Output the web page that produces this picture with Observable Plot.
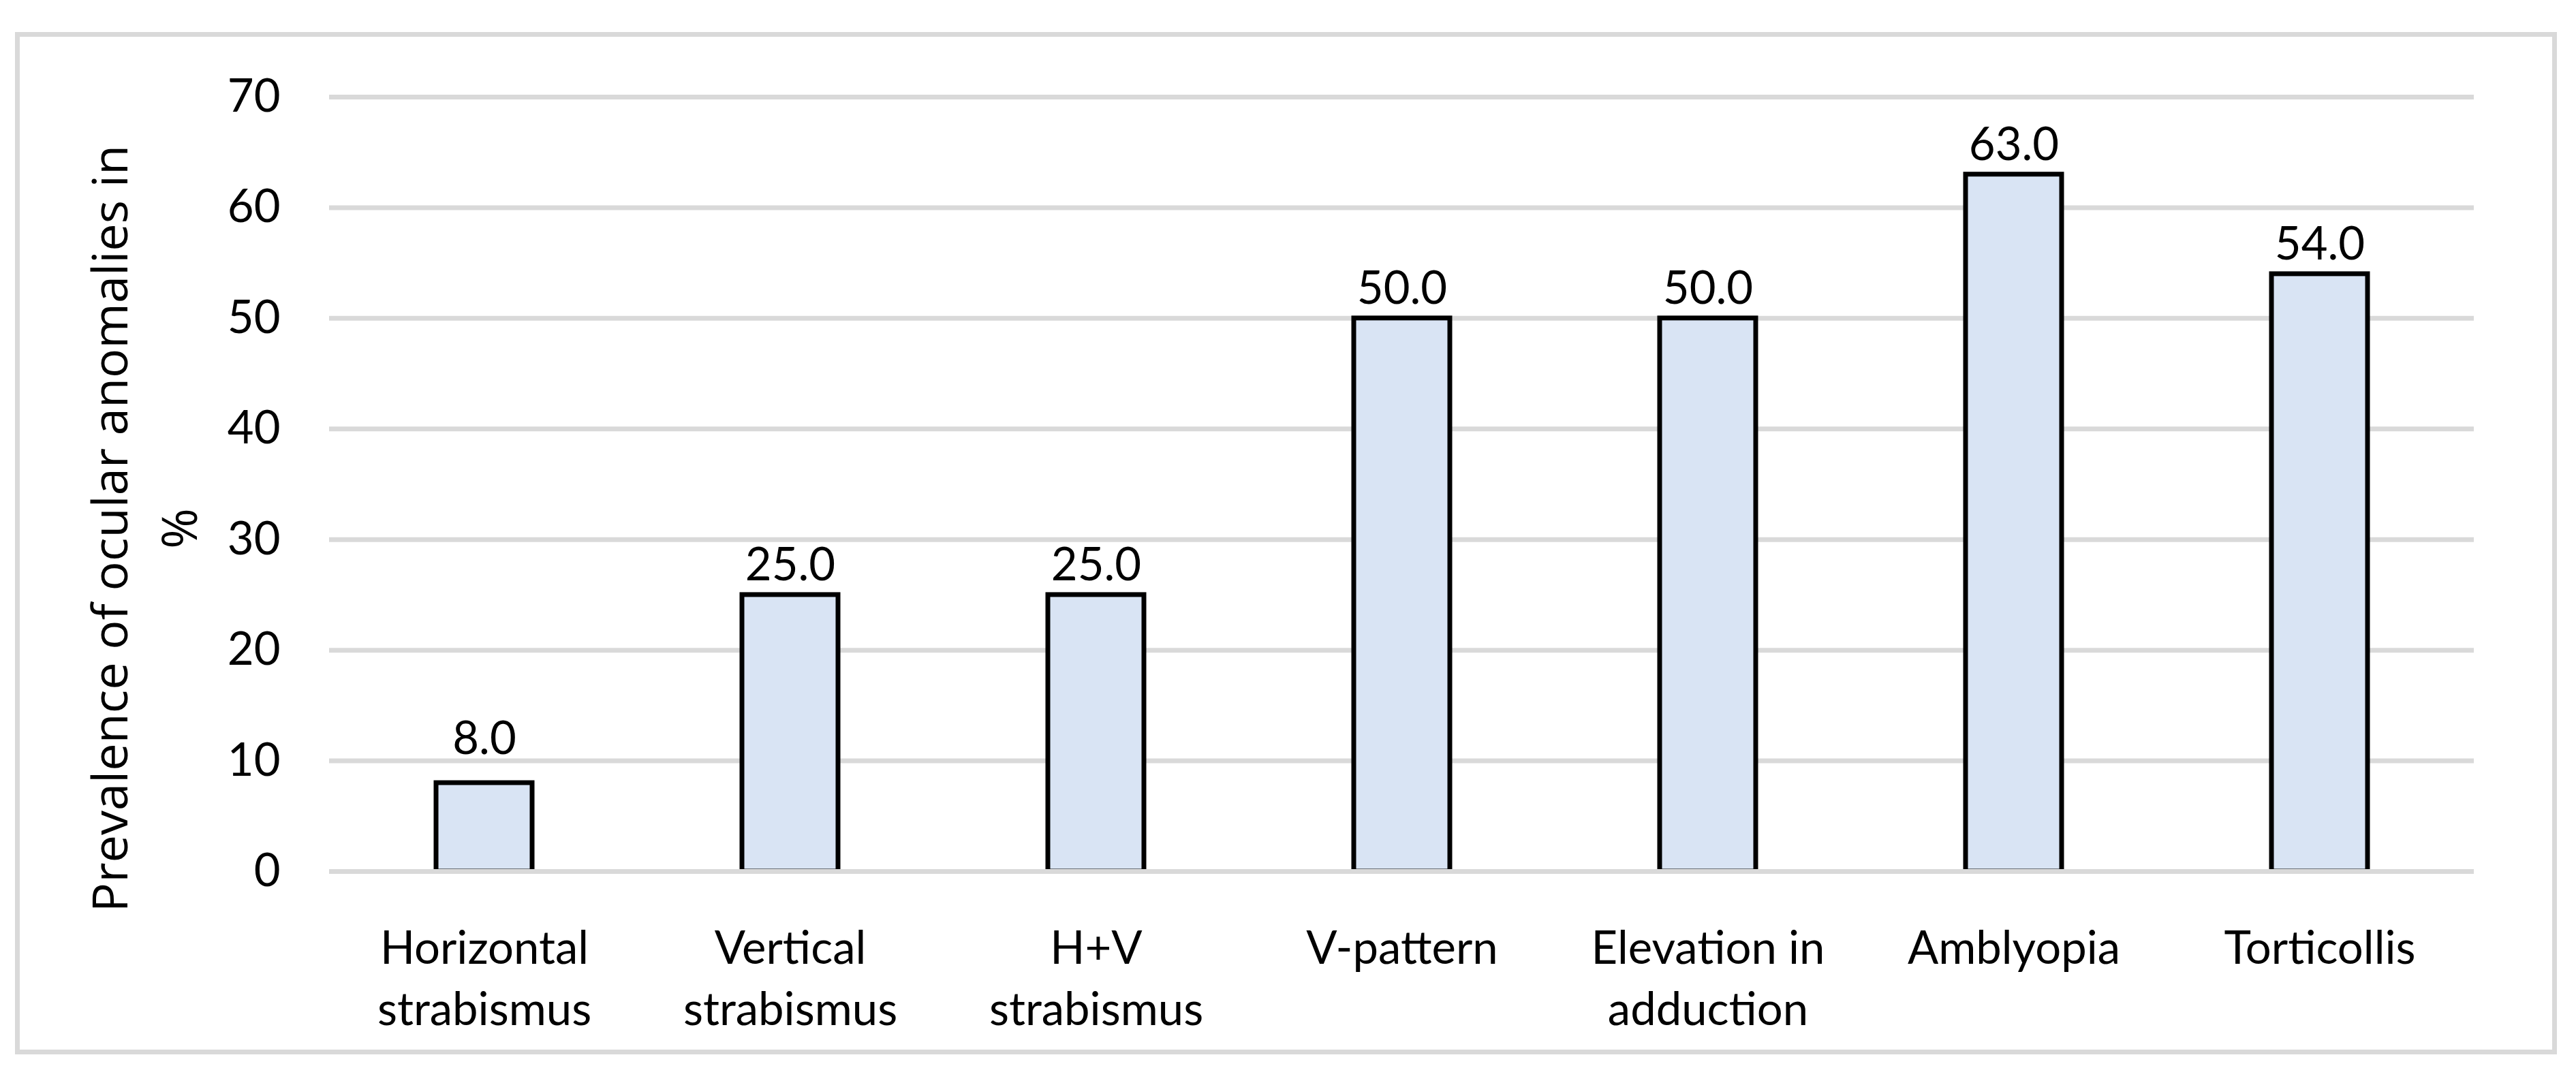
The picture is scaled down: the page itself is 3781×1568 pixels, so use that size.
<!DOCTYPE html>
<html>
<head>
<meta charset="utf-8">
<script src="https://cdn.jsdelivr.net/npm/d3@7"></script>
<script src="https://cdn.jsdelivr.net/npm/@observablehq/plot@0.6"></script>
<style>
  html, body { margin: 0; padding: 0; background: #fff; }
  #wrap { position: relative; width: 3781px; height: 1568px; background: #fff; }
  #wrap svg { position: absolute; left: 0; top: 0; }
  #frame { position: absolute; left: 22px; top: 47px; width: 3731px; height: 1501px;
           border: 7px solid #d9d9d9; box-sizing: border-box; pointer-events: none; }
</style>
</head>
<body>
<div id="wrap"><div id="frame"></div></div>
<script>
// ---- data ----
const categories = [
  "Horizontal\nstrabismus",
  "Vertical\nstrabismus",
  "H+V\nstrabismus",
  "V-pattern",
  "Elevation in\nadduction",
  "Amblyopia",
  "Torticollis"
];
const values = [8.0, 25.0, 25.0, 50.0, 50.0, 63.0, 54.0];
const yTicks = [0, 10, 20, 30, 40, 50, 60, 70];
const yTitleLine1 = "Prevalence of ocular anomalies in";
const yTitleLine2 = "%";

const data = categories.map((c, i) => ({ category: c, value: values[i] }));
const firstGrid = yTicks[1];

const chart = Plot.plot({
  width: 3781,
  height: 1568,
  marginLeft: 483,
  marginRight: 150,
  marginTop: 142,
  marginBottom: 289,
  style: { fontFamily: "Lato, sans-serif", fontSize: "67px", color: "#000", background: "transparent", overflow: "visible" },
  x: { domain: categories, paddingInner: 0.686, paddingOuter: 0.343, label: null },
  y: { domain: [0, 70], ticks: yTicks, label: null },
  marks: [
    Plot.gridY(yTicks, { stroke: "#d9d9d9", strokeOpacity: 1, strokeWidth: 7 }),
    Plot.barY(data, { x: "category", y: "value", fill: "#d9e4f4", stroke: "#000", strokeWidth: 7 }),
    Plot.ruleY([0], { stroke: "#d9d9d9", strokeOpacity: 1, strokeWidth: 7 }),
    // value labels (labels of bars lower than the first gridline sit above that gridline)
    Plot.text(data.filter(d => d.value >= firstGrid), { x: "category", y: "value", text: d => d.value.toFixed(1), lineAnchor: "bottom", dy: -21, fontSize: 67, fill: "#000" }),
    Plot.text(data.filter(d => d.value < firstGrid), { x: "category", y: "value", text: d => d.value.toFixed(1), lineAnchor: "bottom", dy: -43, fontSize: 67, fill: "#000" }),
    Plot.axisY(yTicks, { tickSize: 0, tickPadding: 72, fontSize: 67, label: null }),
    Plot.axisX({ tickSize: 0, tickPadding: 72, lineHeight: 1.343, fontSize: 67, label: null }),
    Plot.text([yTitleLine1], { text: d => d, frameAnchor: "left", textAnchor: "middle", rotate: -90, dx: -297, dy: 65, lineAnchor: "bottom", fontSize: 72, fontFamily: "Open Sans", fill: "#000" }),
    Plot.text([yTitleLine2], { text: d => d, frameAnchor: "left", textAnchor: "middle", rotate: -90, dx: -195, dy: 65, lineAnchor: "bottom", fontSize: 72, fontFamily: "Open Sans", fill: "#000" })
  ]
});
document.getElementById("wrap").prepend(chart);
</script>
</body>
</html>
